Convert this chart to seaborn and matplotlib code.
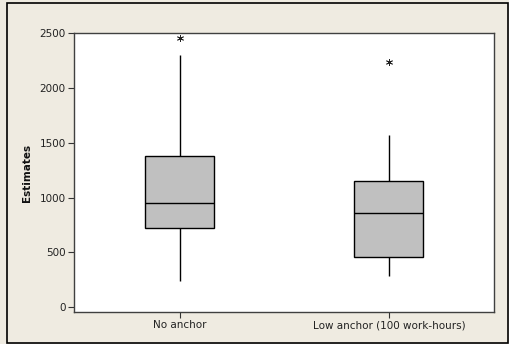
import pandas as pd
import matplotlib
matplotlib.use('Agg')
import matplotlib.pyplot as plt
import seaborn as sns
from matplotlib.patches import Rectangle

# Estimates per group (read off the boxes: whisker ends, quartiles, median, outlier)
no_anchor = [240, 400, 600, 720, 800, 900, 950, 1000, 1200, 1380, 1600, 2300, 2460]
low_anchor = [280, 350, 400, 455, 500, 700, 860, 900, 1000, 1155, 1300, 1570, 2235]
groups = ['No anchor', 'Low anchor (100 work-hours)']
yticks = [0, 500, 1000, 1500, 2000, 2500]

df = pd.DataFrame({
    'Group': [groups[0]] * len(no_anchor) + [groups[1]] * len(low_anchor),
    'Estimates': no_anchor + low_anchor,
})

sns.set_style('white')
plt.rcParams['font.family'] = ['DejaVu Sans']

bg = '#EFEBE1'
fig = plt.figure(figsize=(5.09, 3.44), dpi=100, facecolor=bg)
ax = fig.add_axes([0.1454, 0.093, 0.8251, 0.811])
ax.set_facecolor('white')

sns.boxplot(data=df, x='Group', y='Estimates', order=groups, ax=ax,
            color='#C0C0C0', saturation=1, width=0.33, linecolor='black',
            linewidth=1, whis=1.5,
            capprops=dict(linewidth=0),
            flierprops=dict(marker=(6, 2, 0), markersize=5, markeredgewidth=0.6,
                            markeredgecolor='#222222'))

ax.set_xlim(-0.507, 1.503)
ax.set_ylim(-46, 2504)
ax.set_yticks(yticks)
ax.set_yticklabels([str(v) for v in yticks])
ax.set_xlabel('')
ax.set_ylabel('Estimates', fontsize=7.5, fontweight='bold', color='#111111', labelpad=5)
ax.tick_params(axis='both', direction='out', length=4, width=0.8, color='#333333',
               labelsize=7.5, labelcolor='#222222', pad=2, left=True, bottom=True)
for s in ax.spines.values():
    s.set_color('#404040')
    s.set_linewidth(1)

# outer frame of the graph window
fig.patches.append(Rectangle((7 / 509, 1 / 344), 501 / 509, 340 / 344,
                             transform=fig.transFigure, fill=False,
                             edgecolor='black', linewidth=1.2))

fig.savefig('out.png', dpi=100, facecolor=bg)
